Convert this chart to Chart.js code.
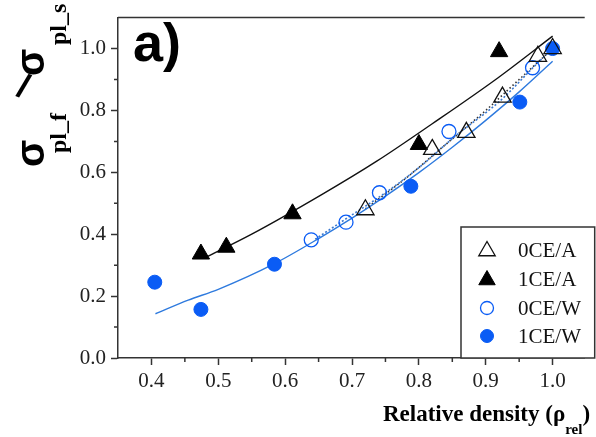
<!DOCTYPE html>
<html>
<head>
<meta charset="utf-8">
<script src="https://cdn.jsdelivr.net/npm/chart.js@4"></script>
<style>
  html, body { margin: 0; padding: 0; background: #fff; }
  #c { display: block; }
</style>
</head>
<body>
<canvas id="c" width="596" height="437"></canvas>
<script>
// tick labels
const xTicks = [0.4, 0.5, 0.6, 0.7, 0.8, 0.9, 1.0];
const yTicks = [0.0, 0.2, 0.4, 0.6, 0.8, 1.0];
const xMinor = [0.45, 0.55, 0.65, 0.75, 0.85, 0.95];
const yMinor = [0.1, 0.3, 0.5, 0.7, 0.9];

// measured points
const oceA_x = [0.72, 0.82, 0.871, 0.925, 0.978, 1.0];
const oceA_y = [0.479, 0.674, 0.729, 0.843, 0.975, 1.0];
const iceA_x = [0.474, 0.512, 0.611, 0.80, 0.92];
const iceA_y = [0.336, 0.358, 0.466, 0.690, 0.99];
const oceW_x = [0.639, 0.691, 0.741, 0.845, 0.970];
const oceW_y = [0.382, 0.439, 0.534, 0.732, 0.938];
const iceW_x = [0.405, 0.474, 0.584, 0.788, 0.951, 1.0];
const iceW_y = [0.245, 0.157, 0.303, 0.555, 0.827, 1.0];

// fitted curves
const fitA1_x = [0.484, 0.55, 0.654, 0.737, 0.82, 0.918, 1.0];
const fitA1_y = [0.328, 0.40, 0.527, 0.636, 0.757, 0.905, 1.04];
const fitW1_x = [0.406, 0.455, 0.50, 0.584, 0.65, 0.70, 0.75, 0.80, 0.85, 0.90, 0.95, 1.0];
const fitW1_y = [0.143, 0.187, 0.222, 0.305, 0.386, 0.452, 0.523, 0.599, 0.681, 0.768, 0.86, 0.959];
const fitW0_x = [0.645, 0.689, 0.75, 0.80, 0.854, 0.922, 0.976, 1.0];
const fitW0_y = [0.384, 0.447, 0.534, 0.615, 0.716, 0.832, 0.95, 1.0];
const fitA0_x = [0.72, 0.78, 0.84, 0.90, 0.95, 1.0];
const fitA0_y = [0.482, 0.58, 0.69, 0.80, 0.90, 1.0];

const BLUE = '#0a5cf5';
const BLUE_LINE = '#2e7ade';
const SERIF = '"Liberation Serif", "Times New Roman", serif';
const SANS = '"Liberation Sans", Arial, sans-serif';

const pts = (xs, ys) => xs.map((x, i) => ({ x: x, y: ys[i] }));

const markerSets = [
  { label: '0CE/A', data: pts(oceA_x, oceA_y), pointStyle: 'triangle', pointRadius: 10,
    backgroundColor: 'rgba(0,0,0,0)', borderColor: '#111', borderWidth: 1.3 },
  { label: '1CE/A', data: pts(iceA_x, iceA_y), pointStyle: 'triangle', pointRadius: 10,
    backgroundColor: '#000', borderColor: '#000', borderWidth: 1 },
  { label: '0CE/W', data: pts(oceW_x, oceW_y), pointStyle: 'circle', pointRadius: 7,
    backgroundColor: 'rgba(0,0,0,0)', borderColor: BLUE, borderWidth: 1.3 },
  { label: '1CE/W', data: pts(iceW_x, iceW_y), pointStyle: 'circle', pointRadius: 7,
    backgroundColor: BLUE, borderColor: BLUE, borderWidth: 1 }
];

const line = (xs, ys, color, dash, width) => ({
  label: '', data: pts(xs, ys), showLine: true, pointRadius: 0,
  borderColor: color, borderWidth: width, borderDash: dash,
  cubicInterpolationMode: 'monotone', fill: false, order: 5
});

const lineSets = [
  line(fitA1_x, fitA1_y, '#111', [], 1.4),
  line(fitW1_x, fitW1_y, BLUE_LINE, [], 1.4),
  line(fitW0_x, fitW0_y, '#3a78d0', [2, 2], 1.6),
  line(fitA0_x, fitA0_y, '#333', [1.5, 2.5], 1.6)
];

const extras = {
  id: 'extras',
  afterDraw(chart) {
    const ctx = chart.ctx;
    const a = chart.chartArea;
    const xs = chart.scales.x, ys = chart.scales.y;
    ctx.save();
    ctx.strokeStyle = '#333';
    ctx.lineWidth = 1.5;
    // top frame
    ctx.beginPath();
    ctx.moveTo(a.left, a.top);
    ctx.lineTo(a.right, a.top);
    ctx.stroke();
    // minor ticks
    ctx.beginPath();
    xMinor.forEach(v => {
      const px = xs.getPixelForValue(v);
      ctx.moveTo(px, a.bottom);
      ctx.lineTo(px, a.bottom + 4);
    });
    yMinor.forEach(v => {
      const py = ys.getPixelForValue(v);
      ctx.moveTo(a.left, py);
      ctx.lineTo(a.left - 4, py);
    });
    ctx.stroke();

    // legend box
    const lx = 461, ly = 227;
    ctx.fillStyle = '#fff';
    ctx.fillRect(lx, ly, a.right - lx + 10, a.bottom - ly);
    ctx.strokeRect(lx, ly, a.right - lx + 10, a.bottom - ly);
    const rows = [250, 279, 308, 336];
    markerSets.forEach((ds, i) => {
      ctx.fillStyle = ds.backgroundColor;
      ctx.strokeStyle = ds.borderColor;
      ctx.lineWidth = ds.borderWidth;
      Chart.helpers.drawPoint(ctx, {
        pointStyle: ds.pointStyle,
        radius: ds.pointStyle === 'circle' ? 6.5 : 9.5,
        rotation: 0,
        borderWidth: ds.borderWidth
      }, 487, rows[i] + (ds.pointStyle === 'triangle' ? 1 : 0));
      ctx.fillStyle = '#111';
      ctx.font = '21px ' + SERIF;
      ctx.textBaseline = 'middle';
      ctx.textAlign = 'left';
      ctx.fillText(ds.label, 518, rows[i] + 1);
    });

    // panel label
    ctx.fillStyle = '#000';
    ctx.textBaseline = 'alphabetic';
    ctx.font = 'bold 54px ' + SANS;
    ctx.fillText('a)', 133, 61);

    // x title
    let x = 383;
    ctx.font = 'bold 23px ' + SERIF;
    ctx.fillText('Relative density (\u03C1', x, 421);
    x += ctx.measureText('Relative density (\u03C1').width;
    ctx.font = 'bold 15px ' + SERIF;
    ctx.fillText('rel', x, 434);
    x += ctx.measureText('rel').width;
    ctx.font = 'bold 23px ' + SERIF;
    ctx.fillText(')', x, 421);

    // y title (rotated)
    ctx.save();
    ctx.rotate(-Math.PI / 2);
    ctx.font = 'bold 40px ' + SANS;
    ctx.fillText('\u03C3', -167, 44);
    ctx.fillText('\u03C3', -76, 44);
    ctx.font = 'bold 24px ' + SERIF;
    ctx.fillText('pl_f', -153, 66);
    ctx.fillText('pl_s', -45, 66);
    ctx.restore();
    // slash between the two sigmas, leaning at about 45 degrees
    ctx.save();
    ctx.translate(23, 88);
    ctx.rotate(20 * Math.PI / 180);
    ctx.font = 'bold 34px ' + SANS;
    ctx.textAlign = 'center';
    ctx.textBaseline = 'middle';
    ctx.fillText('/', 0, 0);
    ctx.restore();
    ctx.restore();
  }
};

new Chart(document.getElementById('c'), {
  type: 'scatter',
  data: { datasets: markerSets.concat(lineSets) },
  options: {
    responsive: false,
    animation: false,
    devicePixelRatio: 1,
    layout: { padding: { left: 0, right: 0, top: 10, bottom: 0 } },
    plugins: { legend: { display: false }, tooltip: { enabled: false } },
    scales: {
      x: {
        type: 'linear', min: 0.35, max: 1.048,
        afterBuildTicks: s => { s.ticks = xTicks.map(v => ({ value: v })); },
        afterFit: s => { s.height = 79; },
        ticks: { autoSkip: false, maxRotation: 0, padding: 4, color: '#222',
                 font: { family: SERIF, size: 21 }, callback: v => v.toFixed(1) },
        grid: { drawOnChartArea: false, tickLength: 7, tickWidth: 1.5, tickColor: '#333' },
        border: { color: '#333', width: 1.5 }
      },
      y: {
        type: 'linear', min: 0, max: 1.1,
        afterBuildTicks: s => { s.ticks = yTicks.map(v => ({ value: v })); },
        afterFit: s => { s.width = 118; },
        ticks: { padding: 5, color: '#222',
                 font: { family: SERIF, size: 21 }, callback: v => v.toFixed(1) },
        grid: { drawOnChartArea: false, tickLength: 7, tickWidth: 1.5, tickColor: '#333' },
        border: { color: '#333', width: 1.5 }
      }
    }
  },
  plugins: [extras]
});
</script>
</body>
</html>
